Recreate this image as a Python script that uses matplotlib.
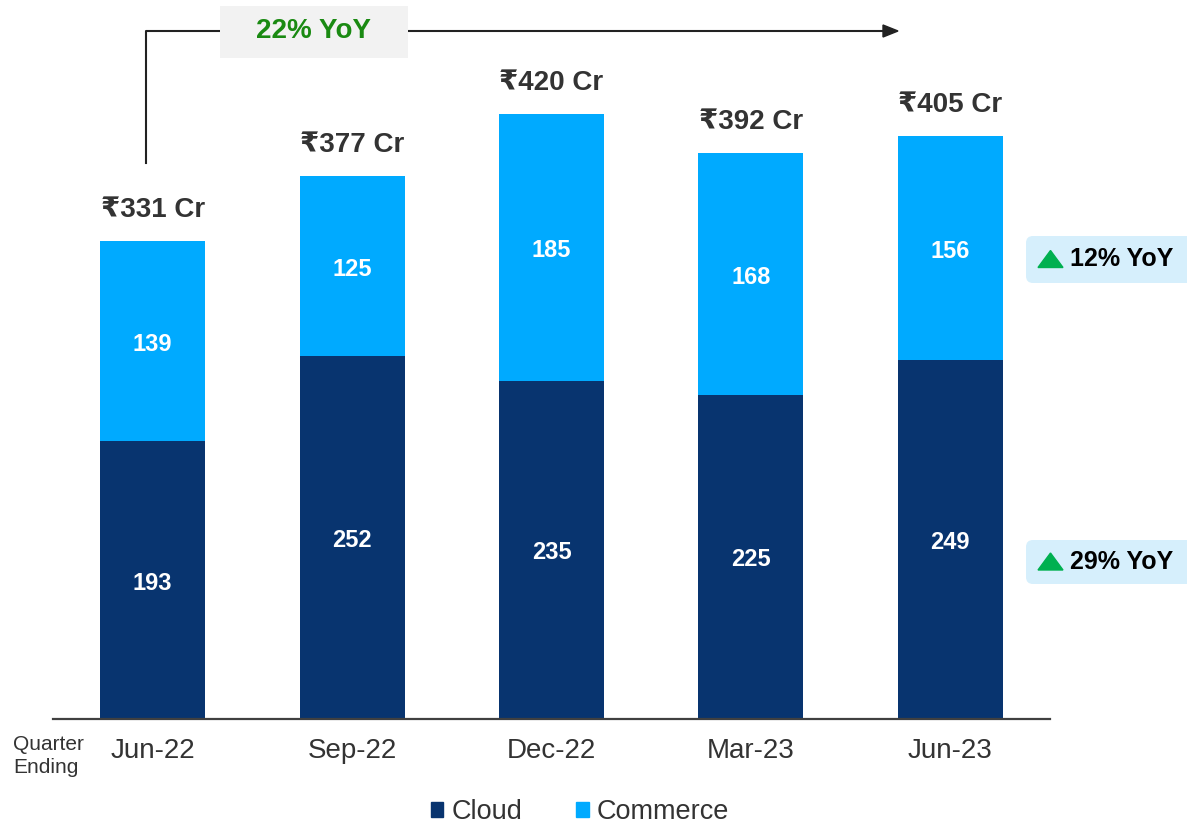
import matplotlib.pyplot as plt
from matplotlib.patches import Patch, Rectangle, FancyBboxPatch, Polygon
from matplotlib.transforms import IdentityTransform

plt.rcParams['font.family'] = ['Liberation Sans', 'DejaVu Sans']

quarters = ['Jun-22', 'Sep-22', 'Dec-22', 'Mar-23', 'Jun-23']
cloud = [193, 252, 235, 225, 249]
commerce = [139, 125, 185, 168, 156]
totals = ['₹331 Cr', '₹377 Cr', '₹420 Cr', '₹392 Cr', '₹405 Cr']
growth_label = '22% YoY'
badges = ['12% YoY', '29% YoY']

cloud_color = '#08346f'
commerce_color = '#00aaff'
text_grey = '#333333'

W, H = 1187, 824
fig = plt.figure(figsize=(W / 100, H / 100), dpi=100)
ax = fig.add_axes([53 / W, 105 / H, 997 / W, 719 / H])

x = range(len(quarters))
width = 0.527
b1 = ax.bar(x, cloud, width, color=cloud_color, label='Cloud')
b2 = ax.bar(x, commerce, width, bottom=cloud, color=commerce_color, label='Commerce')

# values inside the segments (a touch below centre, like the original)
for i in x:
    ax.annotate(str(cloud[i]), (i, cloud[i] / 2), xytext=(0, -3),
                textcoords='offset pixels', ha='center', va='center',
                color='white', fontsize=17, fontweight='bold')
    ax.annotate(str(commerce[i]), (i, cloud[i] + commerce[i] / 2), xytext=(0, -3),
                textcoords='offset pixels', ha='center', va='center',
                color='white', fontsize=17, fontweight='bold')
    ax.annotate(totals[i], (i, cloud[i] + commerce[i]), xytext=(0, 31),
                textcoords='offset pixels', ha='center', va='center',
                color=text_grey, fontsize=20, fontweight='bold')

ax.set_xlim(-0.5, 4.5)
ax.set_ylim(0, 719 / 1.44)
ax.set_xticks(list(x))
ax.set_xticklabels(quarters, fontsize=20, color=text_grey)
ax.tick_params(axis='x', length=0, pad=14)
ax.set_yticks([])
for s in ['top', 'right', 'left']:
    ax.spines[s].set_visible(False)
ax.spines['bottom'].set_color('#404040')
ax.spines['bottom'].set_linewidth(1.6)

fig.text(13 / W, 1 - 756 / H, 'Quarter\nEnding', ha='left', va='center',
         fontsize=15, color=text_grey, linespacing=1.3)

# YoY growth arrow
px = IdentityTransform()
fig.add_artist(plt.Line2D([146, 146, 885], [H - 163, H - 31, H - 31],
                          transform=px, color='#222222', lw=1.5))
fig.add_artist(Polygon([[883, H - 25], [898, H - 31], [883, H - 37]],
                       closed=True, transform=px, color='#222222'))
fig.add_artist(Rectangle((220, H - 58), 188, 52, transform=px,
                         facecolor='#f2f2f2', edgecolor='none', zorder=3))
fig.text(314 / W, 1 - 31 / H, growth_label, ha='center', va='center',
         fontsize=20, fontweight='bold', color='#1a8a12', zorder=4)

# right-side badges
for label, (top, bot) in zip(badges, [(236, 283), (540, 584)]):
    fig.add_artist(FancyBboxPatch((1026, H - bot), 170, bot - top,
                                  boxstyle='round,pad=0,rounding_size=7',
                                  transform=px, facecolor='#d6effc',
                                  edgecolor='none'))
    cy = H - (top + bot) / 2
    fig.add_artist(Polygon([[1038, cy - 8], [1063, cy - 8], [1050.5, cy + 9]],
                           closed=True, transform=px, color='#00b050'))
    fig.text(1070 / W, cy / H, label, ha='left', va='center', fontsize=18,
             fontweight='bold', color='black')

handles = [Patch(color=cloud_color, label='Cloud'),
           Patch(color=commerce_color, label='Commerce')]
fig.legend(handles=handles, loc='center', bbox_to_anchor=(580 / W, 1 - 812 / H),
           ncol=2, frameon=False, fontsize=19.5, handlelength=0.45,
           handleheight=0.45, handletextpad=0.3, columnspacing=2.0,
           labelcolor=text_grey)

fig.savefig('out.png', dpi=100)
